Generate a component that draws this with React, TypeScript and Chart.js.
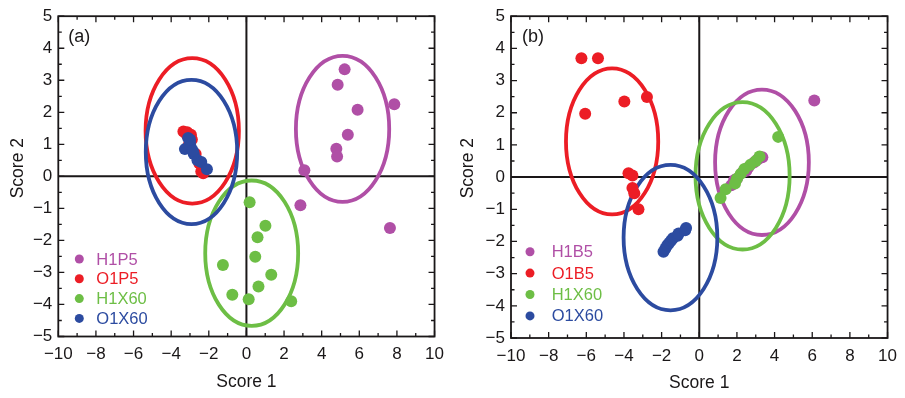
import React, { useEffect, useRef } from "react";
import { Chart, registerables } from "chart.js";
Chart.register(...registerables);

const FONT = "'Liberation Sans', Arial, Helvetica, sans-serif";
const INK = "#1a1718";
const PURPLE = "#B04FA6";
const RED = "#EC1D25";
const GREEN = "#6DBE45";
const BLUE = "#2C4BA0";

const X_TICKS = [-10, -8, -6, -4, -2, 0, 2, 4, 6, 8, 10];
const Y_TICKS = [-5, -4, -3, -2, -1, 0, 1, 2, 3, 4, 5];

// Panel (a)
const A_LABELS = ["H1P5", "O1P5", "H1X60", "O1X60"];
const A_H1P5 = [[5.22, 3.34], [4.85, 2.86], [7.86, 2.25], [5.91, 2.08], [5.39, 1.3], [4.78, 0.86], [4.82, 0.62], [3.08, 0.19], [2.87, -0.9], [7.63, -1.61]];
const A_O1P5 = [[-3.35, 1.4], [-3.15, 1.38], [-2.95, 1.3], [-2.9, 1.15], [-3.05, 1.0], [-2.7, 0.7], [-2.5, 0.4], [-2.4, 0.15], [-2.3, 0.1], [-3.2, 1.32]];
const A_H1X60 = [[0.17, -0.81], [1.01, -1.54], [0.59, -1.9], [0.47, -2.51], [-1.25, -2.77], [1.32, -3.07], [0.64, -3.44], [-0.75, -3.7], [0.12, -3.84], [2.38, -3.9]];
const A_O1X60 = [[-3.1, 1.2], [-3.0, 1.05], [-3.27, 0.85], [-2.95, 0.9], [-2.8, 0.7], [-2.6, 0.5], [-2.4, 0.45], [-2.1, 0.22], [-3.0, 1.15], [-2.85, 0.8]];
// ellipse: [centerX, centerY, radiusX, radiusY]
const A_ELLIPSES = [[5.11, 1.48, 2.48, 2.28], [-2.88, 1.42, 2.48, 2.27], [0.28, -2.4, 2.47, 2.27], [-2.92, 0.76, 2.43, 2.25]];

// Panel (b)
const B_LABELS = ["H1B5", "O1B5", "H1X60", "O1X60"];
const B_H1B5 = [[6.11, 2.38], [3.35, 0.62], [3.1, 0.55], [2.9, 0.45], [2.6, 0.3], [2.5, 0.2], [2.3, 0.15], [2.0, -0.05], [1.85, -0.1], [1.7, -0.25]];
const B_O1B5 = [[-6.26, 3.69], [-5.38, 3.69], [-6.06, 1.97], [-3.98, 2.35], [-2.78, 2.49], [-3.76, 0.12], [-3.55, 0.05], [-3.55, -0.34], [-3.45, -0.5], [-3.23, -1.0]];
const B_H1X60 = [[4.19, 1.25], [3.2, 0.64], [3.0, 0.5], [2.71, 0.38], [2.4, 0.25], [2.2, 0.1], [2.0, -0.05], [1.9, -0.2], [1.4, -0.38], [1.13, -0.65]];
const B_O1X60 = [[-1.9, -2.32], [-1.8, -2.22], [-1.7, -2.12], [-1.6, -2.05], [-1.5, -1.98], [-1.4, -1.9], [-1.15, -1.82], [-1.1, -1.75], [-0.75, -1.65], [-0.7, -1.58]];
const B_ELLIPSES = [[3.33, 0.46, 2.49, 2.26], [-4.63, 1.11, 2.45, 2.27], [2.3, 0.04, 2.5, 2.29], [-1.53, -1.88, 2.49, 2.26]];

const COLORS = [PURPLE, RED, GREEN, BLUE];

const fmt = (v: number) => (v < 0 ? "\u2212" + Math.abs(v) : String(v));

const panelPlugin = {
  id: "panel",
  beforeDatasetsDraw(chart: any) {
    const o = chart.options.plugins.panel;
    const { ctx, chartArea: a } = chart;
    const x = chart.scales.x, y = chart.scales.y;
    ctx.save();
    ctx.strokeStyle = INK;
    ctx.lineWidth = 2;
    const x0 = x.getPixelForValue(0), y0 = y.getPixelForValue(0);
    ctx.beginPath();
    ctx.moveTo(x0, a.top); ctx.lineTo(x0, a.bottom);
    ctx.moveTo(a.left, y0); ctx.lineTo(a.right, y0);
    ctx.stroke();
    o.ellipses.forEach((e: number[], i: number) => {
      const [cx, cy, rx, ry] = e;
      const px = x.getPixelForValue(cx), py = y.getPixelForValue(cy);
      const prx = Math.abs(x.getPixelForValue(cx + rx) - px);
      const pry = Math.abs(y.getPixelForValue(cy + ry) - py);
      ctx.strokeStyle = COLORS[i];
      ctx.lineWidth = 3.8;
      ctx.beginPath();
      ctx.ellipse(px, py, prx, pry, 0, 0, Math.PI * 2);
      ctx.stroke();
    });
    ctx.restore();
  },
  afterDraw(chart: any) {
    const o = chart.options.plugins.panel;
    const { ctx, chartArea: a } = chart;
    const x = chart.scales.x, y = chart.scales.y;
    ctx.save();
    // frame
    ctx.strokeStyle = INK;
    ctx.lineWidth = 1.8;
    ctx.strokeRect(a.left, a.top, a.right - a.left, a.bottom - a.top);
    // ticks (inward, all sides)
    ctx.lineWidth = 1.3;
    ctx.beginPath();
    const major = 6, minor = 3.5;
    for (let i = 0; i < X_TICKS.length; i++) {
      const v = X_TICKS[i];
      const px = x.getPixelForValue(v);
      ctx.moveTo(px, a.bottom); ctx.lineTo(px, a.bottom - major);
      ctx.moveTo(px, a.top); ctx.lineTo(px, a.top + major);
      if (i < X_TICKS.length - 1) {
        const m = x.getPixelForValue((v + X_TICKS[i + 1]) / 2);
        ctx.moveTo(m, a.bottom); ctx.lineTo(m, a.bottom - minor);
        ctx.moveTo(m, a.top); ctx.lineTo(m, a.top + minor);
      }
    }
    for (let i = 0; i < Y_TICKS.length; i++) {
      const v = Y_TICKS[i];
      const py = y.getPixelForValue(v);
      ctx.moveTo(a.left, py); ctx.lineTo(a.left + major, py);
      ctx.moveTo(a.right, py); ctx.lineTo(a.right - major, py);
      if (i < Y_TICKS.length - 1) {
        const m = y.getPixelForValue((v + Y_TICKS[i + 1]) / 2);
        ctx.moveTo(a.left, m); ctx.lineTo(a.left + minor, m);
        ctx.moveTo(a.right, m); ctx.lineTo(a.right - minor, m);
      }
    }
    ctx.stroke();
    // axis titles
    ctx.fillStyle = INK;
    ctx.font = `17.5px ${FONT}`;
    ctx.textAlign = "center";
    ctx.textBaseline = "middle";
    ctx.fillText("Score 1", (a.left + a.right) / 2, a.bottom + o.xTitleDy);
    ctx.save();
    ctx.translate(o.yTitleX, a.top + 152);
    ctx.rotate(-Math.PI / 2);
    ctx.fillText("Score 2", 0, 0);
    ctx.restore();
    // panel label
    ctx.textAlign = "left";
    ctx.font = `18px ${FONT}`;
    ctx.fillText(o.tag, a.left + o.tagDx, a.top + 21);
    // legend
    ctx.font = `16.5px ${FONT}`;
    chart.data.datasets.forEach((ds: any, i: number) => {
      const ly = a.bottom - o.legTop + i * o.legGap;
      ctx.fillStyle = COLORS[i];
      ctx.beginPath();
      ctx.arc(a.left + o.legMarkDx, ly, 4.5, 0, Math.PI * 2);
      ctx.fill();
      ctx.fillText(ds.label, a.left + o.legTextDx, ly + 1);
    });
    ctx.restore();
  },
};

type PanelProps = {
  labels: string[];
  series: number[][][];
  ellipses: number[][];
  tag: string;
  left: number;
  width: number;
  yAxisWidth: number;
  padRight: number;
  padTop: number;
  xAxisHeight: number;
  legTop: number;
  legGap: number;
  legMarkDx: number;
  legTextDx: number;
  tagDx: number;
  yTitleX: number;
  xTitleDy: number;
};

function Panel(p: PanelProps) {
  const ref = useRef<HTMLCanvasElement | null>(null);
  useEffect(() => {
    if (!ref.current) return;
    const order = [4, 3, 2, 1];
    const chart = new Chart(ref.current, {
      type: "scatter",
      data: {
        datasets: p.series.map((s, i) => ({
          label: p.labels[i],
          data: s.map(([vx, vy]) => ({ x: vx, y: vy })),
          backgroundColor: COLORS[i],
          borderWidth: 0,
          pointRadius: 6,
          pointHoverRadius: 6,
          order: order[i],
        })),
      },
      options: {
        responsive: false,
        animation: false,
        devicePixelRatio: 1,
        layout: { padding: { left: 0, right: p.padRight, top: p.padTop, bottom: 0 } },
        plugins: {
          legend: { display: false },
          tooltip: { enabled: false },
          panel: {
            ellipses: p.ellipses,
            tag: p.tag,
            legTop: p.legTop,
            legGap: p.legGap,
            legMarkDx: p.legMarkDx,
            legTextDx: p.legTextDx,
            tagDx: p.tagDx,
            yTitleX: p.yTitleX,
            xTitleDy: p.xTitleDy,
          },
        } as any,
        scales: {
          x: {
            type: "linear",
            min: -10,
            max: 10,
            afterBuildTicks: (s: any) => { s.ticks = X_TICKS.map((v) => ({ value: v })); },
            afterFit: (s: any) => { s.height = p.xAxisHeight; },
            grid: { display: false, drawTicks: false },
            border: { display: false },
            ticks: {
              autoSkip: false,
              maxRotation: 0,
              padding: 8,
              color: INK,
              font: { family: FONT, size: 17 },
              callback: (v: any) => fmt(Number(v)),
            },
          },
          y: {
            type: "linear",
            min: -5,
            max: 5,
            afterBuildTicks: (s: any) => { s.ticks = Y_TICKS.map((v) => ({ value: v })); },
            afterFit: (s: any) => { s.width = p.yAxisWidth; },
            grid: { display: false, drawTicks: false },
            border: { display: false },
            ticks: {
              autoSkip: false,
              padding: 6,
              color: INK,
              font: { family: FONT, size: 17 },
              callback: (v: any) => fmt(Number(v)),
            },
          },
        },
      },
      plugins: [panelPlugin],
    });
    return () => chart.destroy();
  }, []);
  return (
    <canvas
      ref={ref}
      width={p.width}
      height={398}
      style={{ position: "absolute", left: p.left, top: 0, width: p.width, height: 398, display: "block" }}
    />
  );
}

export default function App() {
  return (
    <div style={{ position: "absolute", left: 0, top: 0, width: 905, height: 398, background: "#fff", overflow: "hidden" }}>
      <Panel
        labels={A_LABELS}
        series={[A_H1P5, A_O1P5, A_H1X60, A_O1X60]}
        ellipses={A_ELLIPSES}
        tag="(a)"
        left={0}
        width={452}
        yAxisWidth={58.3}
        padRight={10.5}
        padTop={15}
        xAxisHeight={61.5}
        legTop={77.5}
        legGap={19.8}
        legMarkDx={21}
        legTextDx={38}
        tagDx={10}
        yTitleX={18}
        xTitleDy={45.5}
      />
      <Panel
        labels={B_LABELS}
        series={[B_H1B5, B_O1B5, B_H1X60, B_O1X60]}
        ellipses={B_ELLIPSES}
        tag="(b)"
        left={452}
        width={453}
        yAxisWidth={59}
        padRight={12.3}
        padTop={13.3}
        xAxisHeight={60}
        legTop={86.3}
        legGap={21.4}
        legMarkDx={19}
        legTextDx={40.7}
        tagDx={11}
        yTitleX={16}
        xTitleDy={45}
      />
    </div>
  );
}
